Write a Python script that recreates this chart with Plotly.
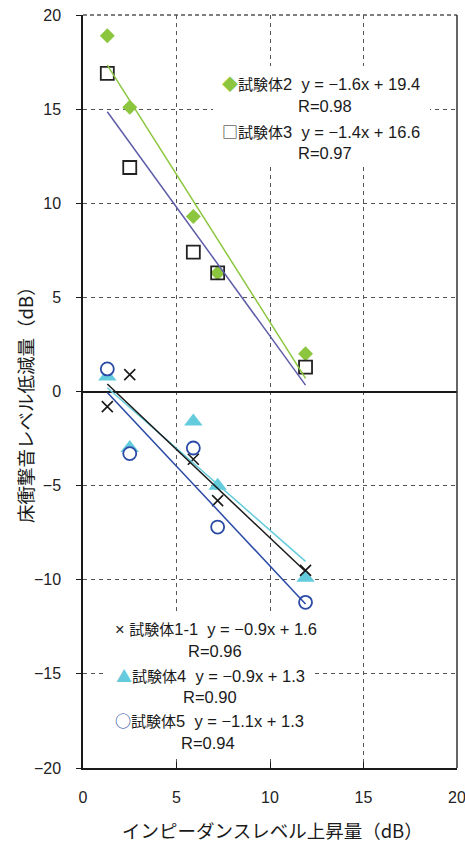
import numpy as np
import plotly.graph_objects as go

# Impedance-level increase (dB) for each measurement condition
x_vals = [1.3, 2.5, 5.9, 7.2, 11.9]

# Floor impact sound level reduction (dB) per specimen
y_s2 = [18.9, 15.1, 9.3, 6.3, 2.0]
y_s3 = [16.9, 11.9, 7.4, 6.3, 1.3]
y_s11 = [-0.8, 0.9, -3.6, -5.8, -9.5]
y_s4 = [0.8, -3.0, -1.6, -5.0, -9.9]
y_s5 = [1.2, -3.3, -3.0, -7.2, -11.2]

names = ["試験体2", "試験体3", "試験体1-1", "試験体4", "試験体5"]
glyphs = ["◆", "□", "×", "▲", "○"]

# Linear trend coefficients and correlation coefficients
slopes = [-1.57, -1.37, -0.94, -0.87, -1.06]
intercepts = [19.38, 16.64, 1.62, 1.33, 1.33]
r_vals = [0.98, 0.97, 0.96, 0.90, 0.94]

x_ticks = [0, 5, 10, 15, 20]
y_ticks = [-20, -15, -10, -5, 0, 5, 10, 15, 20]

GREEN = "#8cc63f"
PURPLE = "#5d5ca8"
BLACK = "#1a1a1a"
CYAN = "#63cbdc"
BLUE = "#2a4aa6"

W, H = 465, 843
ML, MR, MT, MB = 83, 8, 15, 75
PW, PH = W - ML - MR, H - MT - MB
X0, X1, Y0, Y1 = 0, 20, -20, 20


def px(xp):
    return (xp - ML) / PW


def py(yp):
    return (H - MB - yp) / PH


def dx(xp):
    return X0 + px(xp) * (X1 - X0)


def dy(yp):
    return Y0 + py(yp) * (Y1 - Y0)


fig = go.Figure()

series = [
    (y_s2, dict(symbol="diamond", size=11.5, color=GREEN, line=dict(width=0)), GREEN),
    (y_s3, dict(symbol="square-open", size=13, color="#222222", line=dict(width=1.8)), PURPLE),
    (y_s4, dict(symbol="triangle-up", size=16, color=CYAN, line=dict(width=0)), CYAN),
    (y_s11, dict(symbol="x-thin-open", size=11, color=BLACK, line=dict(width=1.6, color=BLACK)), BLACK),
    (y_s5, dict(symbol="circle", size=13, color="white", line=dict(width=1.8, color=BLUE)), BLUE),
]
order = [0, 1, 3, 2, 4]

# markers
for (ys, mk, _), idx in zip(series, order):
    fig.add_trace(go.Scatter(x=x_vals, y=ys, mode="markers", marker=mk,
                             name=names[idx], showlegend=False, hoverinfo="skip"))

# trend lines drawn over the markers
xl = np.array([min(x_vals), max(x_vals)])
for (ys, mk, lc), idx in zip(series, order):
    fig.add_trace(go.Scatter(x=xl, y=slopes[idx] * xl + intercepts[idx], mode="lines",
                             line=dict(color=lc, width=1.5), showlegend=False,
                             hoverinfo="skip"))

glyph_colors = [GREEN, "#222222", BLACK, CYAN, BLUE]


def eq_text(i):
    m, b = slopes[i], intercepts[i]
    sign = "−" if m < 0 else ""
    g = glyphs[i]
    if g == "×":
        mark = f'<span style="color:{glyph_colors[i]}">{g}</span>\u00a0'
    else:
        mark = (f'<span style="color:{glyph_colors[i]};font-family:Noto Sans CJK JP;'
                f'font-size:16px">{g}</span>')
    name = names[i]
    return (mark + f'<span style="font-size:15px">{name[:3]}</span>{name[3:]}'
            f'\u00a0\u00a0y = {sign}{abs(m):.1f}x + {b:.1f}')


FONT = dict(family="Liberation Sans, Noto Sans CJK JP", size=16.5, color="#1a1a1a")

# label blocks: (series index, centre x px, equation y px, R y px, R centre x px)
blocks = [
    (0, 321, 83, 106, 325),
    (1, 321, 131, 153, 325),
    (2, 216, 629, 651, 215),
    (3, 210, 675, 697, 210),
    (4, 209, 720, 743, 208),
]
annotations = []
for i, cx, ey, ry, rx in blocks:
    annotations.append(dict(text=eq_text(i), x=px(cx), y=py(ey), xref="paper", yref="paper",
                            xanchor="center", yanchor="middle", showarrow=False, font=FONT))
    annotations.append(dict(text=f"R={r_vals[i]:.2f}", x=px(rx), y=py(ry), xref="paper",
                            yref="paper", xanchor="center", yanchor="middle",
                            showarrow=False, font=FONT))

TITLE_FONT = dict(family="Noto Sans CJK JP, Liberation Sans", size=18.5, color="#1a1a1a")
annotations.append(dict(text="インピーダンスレベル上昇量（dB）", x=px(272), y=py(830),
                        xref="paper", yref="paper", xanchor="center", yanchor="middle",
                        showarrow=False, font=TITLE_FONT))
annotations.append(dict(text="床衝撃音レベル低減量（dB）", x=px(25), y=py(400),
                        xref="paper", yref="paper", xanchor="center", yanchor="middle",
                        textangle=-90, showarrow=False, font=TITLE_FONT))

shapes = [
    # white panels behind the label blocks (between gridlines and traces)
    dict(type="rect", xref="x", yref="y", x0=dx(213), x1=dx(430), y0=dy(166), y1=dy(66),
         fillcolor="white", line=dict(width=0), layer="between"),
    dict(type="rect", xref="x", yref="y", x0=dx(107), x1=dx(312), y0=dy(756), y1=dy(612),
         fillcolor="white", line=dict(width=0), layer="between"),
    # frame: top and right
    dict(type="line", xref="paper", yref="paper", x0=0, x1=1, y0=1, y1=1,
         line=dict(color="#555555", width=1.5, dash="4px,3px"), layer="above"),
    dict(type="line", xref="paper", yref="paper", x0=1, x1=1, y0=0, y1=1,
         line=dict(color="#333333", width=1.5), layer="above"),
]

TICK_FONT = dict(family="Liberation Sans, Arial", size=16, color="#222222")
GRID = dict(showgrid=True, gridcolor="#555555", gridwidth=1, griddash="4px,4px")

fig.update_layout(
    width=W, height=H,
    margin=dict(l=ML, r=MR, t=MT, b=MB, autoexpand=False),
    paper_bgcolor="white", plot_bgcolor="white",
    showlegend=False,
    annotations=annotations,
    shapes=shapes,
    xaxis=dict(range=[X0, X1], tickvals=x_ticks, ticks="inside", ticklen=6, tickcolor=BLACK,
               showline=True, linecolor=BLACK, linewidth=1.5, zeroline=False,
               tickfont=TICK_FONT, ticklabelstandoff=14, ticklabeloverflow="allow",
               automargin=False, fixedrange=True, **GRID),
    yaxis=dict(range=[Y0, Y1], tickvals=y_ticks, ticks="outside", ticklen=5, tickcolor=BLACK,
               showline=True, linecolor=BLACK, linewidth=1.5, zeroline=True,
               zerolinecolor=BLACK, zerolinewidth=1.5,
               tickfont=TICK_FONT, ticklabelstandoff=12, automargin=False,
               fixedrange=True, **GRID),
)

fig.write_html("out.html")
